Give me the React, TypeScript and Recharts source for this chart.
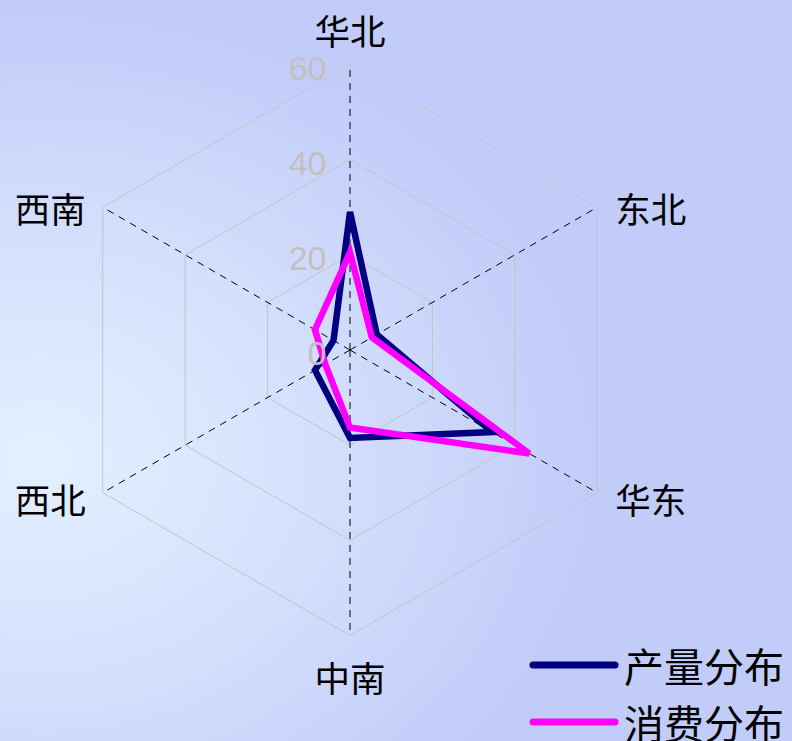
import React from 'react';
import {
  RadarChart,
  Radar,
  PolarGrid,
  PolarAngleAxis,
  PolarRadiusAxis,
  Legend
} from 'recharts';

// Regional share (%)
const regions = ['华北', '东北', '华东', '中南', '西北', '西南'];
const outputShare = [29, 6.5, 34.5, 18.5, 8.5, 4];
const consumptionShare = [20.5, 5.3, 43.5, 16.3, 6, 8.5];
const radiusTicks = [0, 20, 40, 60];

const data = regions.map((region, i) => ({
  region,
  产量分布: outputShare[i],
  消费分布: consumptionShare[i]
}));

const CX = 350;
const CY = 350;
const OUTER = 285.5;
const gridRadii = radiusTicks.slice(1).map((t) => (t / 60) * OUTER);

const cjk = '"Noto Sans CJK SC", "Noto Sans", sans-serif';

const AngleTick = (props: any) => {
  const { x, y, payload } = props;
  const dx = x - CX;
  let tx = x;
  let ty = y;
  let anchor: 'start' | 'middle' | 'end' = 'middle';
  if (Math.abs(dx) < 5) {
    ty = y < CY ? y - 27 : y + 33;
  } else if (dx > 0) {
    anchor = 'start';
    tx = x + 11;
    ty = y + (y < CY ? 4 : 2);
  } else {
    anchor = 'end';
    tx = x - 10;
    ty = y + (y < CY ? 4 : 2);
  }
  return (
    <text
      x={tx}
      y={ty}
      textAnchor={anchor}
      dominantBaseline="central"
      fill="#000"
      fontSize={35.5}
      fontFamily={cjk}
    >
      {payload.value}
    </text>
  );
};

const RadiusTick = (props: any) => {
  const { x, y, payload } = props;
  return (
    <text
      x={x - 23.5}
      y={y + 3}
      textAnchor="end"
      dominantBaseline="central"
      fill="#c4c0bc"
      fontSize={34}
      fontFamily='"Liberation Sans", Arial, sans-serif'
    >
      {payload.value}
    </text>
  );
};

const LegendContent = (props: any) => {
  const items = props.payload || [];
  return (
    <div>
      {items.map((item: any, i: number) => (
        <div key={i} style={{ display: 'flex', alignItems: 'center', height: 57 }}>
          <svg width={96} height={20} style={{ display: 'block' }}>
            <line x1={7} y1={10} x2={89} y2={10} stroke={item.color} strokeWidth={7} strokeLinecap="round" />
          </svg>
          <span style={{ fontSize: 40, fontFamily: cjk, color: '#000', lineHeight: '40px', marginLeft: 2 }}>
            {item.value}
          </span>
        </div>
      ))}
    </div>
  );
};

export default function App() {
  return (
    <div
      style={{
        position: 'absolute',
        left: 0,
        top: 0,
        width: 792,
        height: 741,
        overflow: 'hidden',
        background:
          'radial-gradient(ellipse 70% 60% at 5% 62%, #e3f0ff 0%, #d6e2fd 45%, #c2ccf9 100%)'
      }}
    >
      <RadarChart
        width={792}
        height={741}
        data={data}
        cx={CX}
        cy={CY}
        outerRadius={OUTER}
        margin={{ top: 0, right: 0, bottom: 0, left: 0 }}
      >
        <PolarGrid gridType="polygon" radialLines={false} polarRadius={gridRadii} stroke="#c8c2c2" strokeWidth={1} />
        <PolarGrid gridType="polygon" polarRadius={[]} stroke="#000" strokeWidth={1} strokeDasharray="7 6" />
        <PolarAngleAxis dataKey="region" tick={AngleTick} tickLine={false} axisLine={false} />
        <PolarRadiusAxis
          angle={90}
          domain={[0, 60]}
          ticks={radiusTicks}
          tick={RadiusTick}
          axisLine={false}
          tickLine={false}
        />
        <Radar
          name="产量分布"
          dataKey="产量分布"
          stroke="#000080"
          strokeWidth={6.5}
          fill="none"
          fillOpacity={0}
          dot={false}
          legendType="line"
          isAnimationActive={false}
        />
        <Radar
          name="消费分布"
          dataKey="消费分布"
          stroke="#ff00ff"
          strokeWidth={6.5}
          fill="none"
          fillOpacity={0}
          dot={false}
          legendType="line"
          isAnimationActive={false}
        />
        <Legend
          layout="vertical"
          align="center"
          verticalAlign="middle"
          content={LegendContent}
          wrapperStyle={{ left: 526, top: 636, width: 266, height: 110 }}
        />
      </RadarChart>
    </div>
  );
}
